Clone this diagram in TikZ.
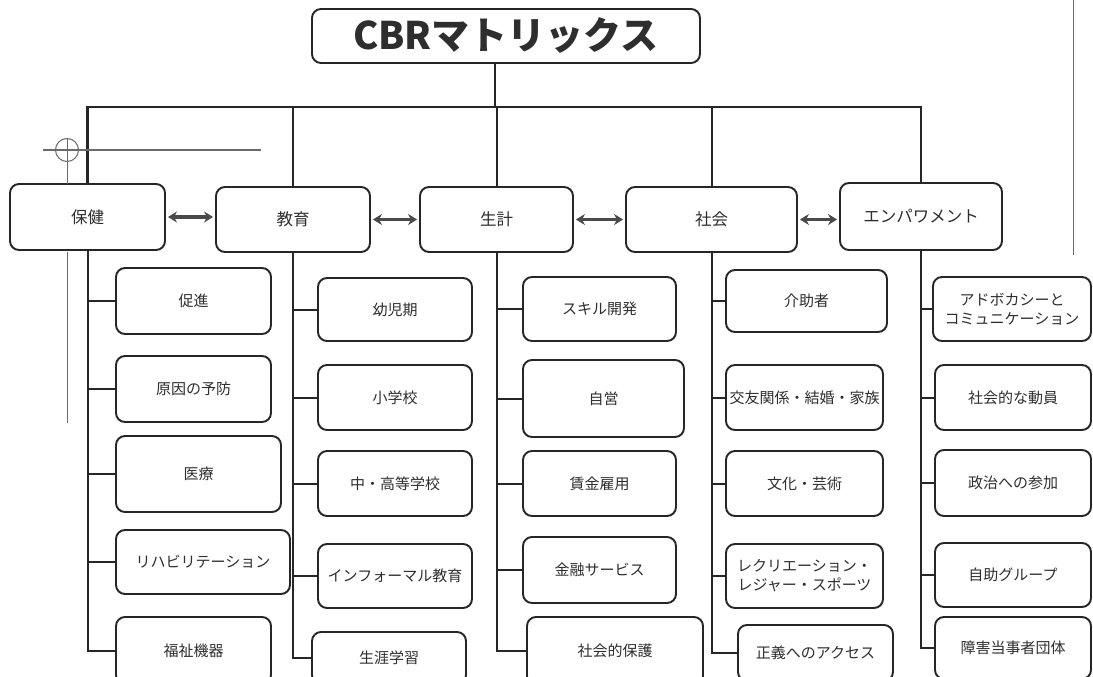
\documentclass[tikz,border=0pt]{standalone}
\usepackage{fontspec}
\setmainfont{Noto Sans CJK JP}
\usetikzlibrary{arrows.meta}
\definecolor{inkc}{HTML}{262626}
\definecolor{txtc}{HTML}{2E2E2E}
\definecolor{arrc}{HTML}{4A4A4A}
\definecolor{regc}{HTML}{6A6A6A}
\begin{document}
\begin{tikzpicture}[x=1pt,y=-1pt,
  rect/.style n args={4}{minimum width={#3-#1}, minimum height={#4-#2}, at={({(#1+#3)/2},{(#2+#4)/2})}},
  box/.style={draw=inkc, line width=1.9pt, rounded corners=9pt, inner sep=0pt, align=center, text=txtc, font=\fontsize{15}{19}\selectfont},
  cat/.style={box, font=\fontsize{16.5}{19}\selectfont},
  link/.style={draw=inkc, line width=2pt},
  biarrow/.style={draw=arrc, line width=3.2pt, {Stealth[length=9pt,width=11pt]}-{Stealth[length=9pt,width=11pt]}, shorten <=2pt, shorten >=2pt},
  regline/.style={draw=regc, line width=1pt}
]
\clip (0,0) rectangle (1093,677);
\fill[white] (0,0) rectangle (1093,677);

% title
\node[box, rect={312}{9}{700}{63}, font=\fontsize{38}{40}\selectfont\bfseries] (title) {CBRマトリックス};

% categories
\node[cat, rect={10}{184}{165}{250}] (hoken) {保健};
\node[cat, rect={216}{187}{370}{252}] (kyoiku) {教育};
\node[cat, rect={420}{187}{573}{252}] (seikei) {生計};
\node[cat, rect={626}{187}{797}{252}] (shakai) {社会};
\node[cat, rect={840}{183}{1002}{250}] (empower) {エンパワメント};

% bus
\coordinate (hub) at (495,107);
\draw[link, line width=2.4pt] (title.south -| hub) -- (hub);
\draw[link, line width=2.4pt] (hoken.north) |- (empower.north |- hub) -- (empower.north);
\foreach \c in {kyoiku,seikei,shakai}
  \draw[link] (\c.north) -- (\c.north |- hub);

% arrows
\draw[biarrow] (hoken.east) -- (hoken.east -| kyoiku.west);
\draw[biarrow] (kyoiku.east) -- (kyoiku.east -| seikei.west);
\draw[biarrow] (seikei.east) -- (seikei.east -| shakai.west);
\draw[biarrow] (shakai.east) -- (shakai.east -| empower.west);

% health
\node[box, rect={116}{268}{271}{334}] (h1) {促進};
\node[box, rect={116}{356}{271}{422}] (h2) {原因の予防};
\node[box, rect={116}{436}{281}{512}] (h3) {医療};
\node[box, rect={116}{530}{290}{594}] (h4) {リハビリテーション};
\node[box, rect={116}{617}{271}{684}] (h5) {福祉機器};

% education
\node[box, rect={318}{278}{472}{341}] (k1) {幼児期};
\node[box, rect={318}{365}{472}{430}] (k2) {小学校};
\node[box, rect={318}{451}{472}{516}] (k3) {中・高等学校};
\node[box, rect={318}{544}{472}{608}] (k4) {インフォーマル教育};
\node[box, rect={312}{632}{466}{684}] (k5) {生涯学習};

% livelihood
\node[box, rect={523}{277}{676}{341}] (s1) {スキル開発};
\node[box, rect={523}{360}{684}{437}] (s2) {自営};
\node[box, rect={523}{451}{676}{516}] (s3) {賃金雇用};
\node[box, rect={523}{537}{676}{603}] (s4) {金融サービス};
\node[box, rect={527}{617}{703}{685}] (s5) {社会的保護};

% social
\node[box, rect={726}{270}{887}{332}] (c1) {介助者};
\node[box, rect={726}{365}{883}{430}] (c2) {交友関係・結婚・家族};
\node[box, rect={726}{451}{883}{516}] (c3) {文化・芸術};
\node[box, rect={726}{544}{883}{608}] (c4) {レクリエーション・\\レジャー・スポーツ};
\node[box, rect={738}{625}{893}{681}] (c5) {正義へのアクセス};

% empowerment
\node[box, rect={933}{277}{1091}{341}] (e1) {アドボカシーと\\コミュニケーション};
\node[box, rect={935}{365}{1091}{430}] (e2) {社会的な動員};
\node[box, rect={935}{450}{1091}{516}] (e3) {政治への参加};
\node[box, rect={935}{543}{1091}{607}] (e4) {自助グループ};
\node[box, rect={935}{617}{1091}{679}] (e5) {障害当事者団体};

% trunks and branches
\draw[link] (hoken.south) |- (h5.west);
\foreach \c in {h1,h2,h3,h4} \draw[link] (\c.west) -- (\c.west -| hoken.south);
\draw[link] (kyoiku.south) |- (k5.west);
\foreach \c in {k1,k2,k3,k4} \draw[link] (\c.west) -- (\c.west -| kyoiku.south);
\draw[link] (seikei.south) |- (s5.west);
\foreach \c in {s1,s2,s3,s4} \draw[link] (\c.west) -- (\c.west -| seikei.south);
\draw[link] (shakai.south) |- (c5.west);
\foreach \c in {c1,c2,c3,c4} \draw[link] (\c.west) -- (\c.west -| shakai.south);
\draw[link] (empower.south) |- (e5.west);
\foreach \c in {e1,e2,e3,e4} \draw[link] (\c.west) -- (\c.west -| empower.south);

% registration marks of the scan
\draw[regline] (67,150) circle[radius=11.5];
\draw[regline, line width=1.4pt] (43,150) -- (261,150);
\draw[regline] (67,138) -- (67,184);
\draw[regline] (67,252) -- (67,423);
\draw[regline] (1073,0) -- (1073,255);
\end{tikzpicture}
\end{document}
